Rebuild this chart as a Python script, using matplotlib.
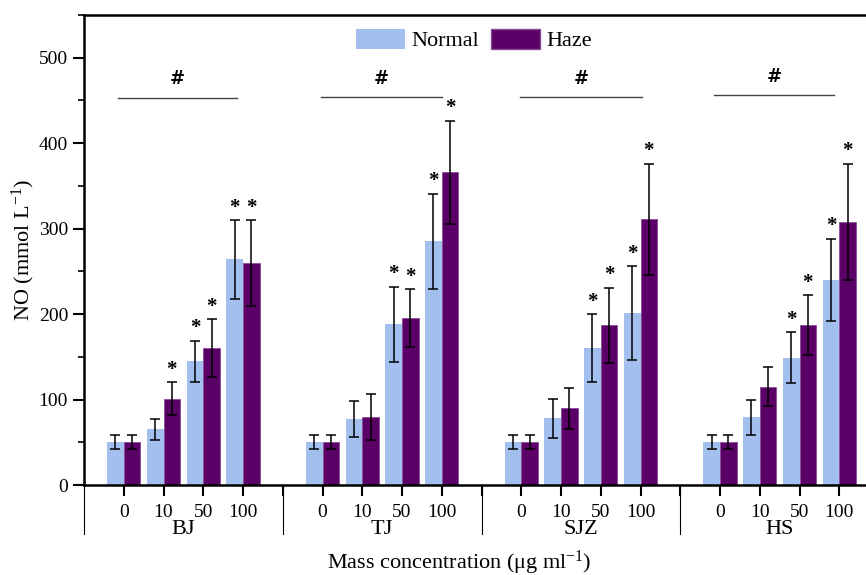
import numpy as np
import matplotlib
matplotlib.use("Agg")
import matplotlib.pyplot as plt
from matplotlib.patches import Patch
from matplotlib.ticker import MultipleLocator

plt.rcParams.update({
    "font.family": ["Liberation Serif", "DejaVu Serif"],
    "mathtext.fontset": "custom",
    "mathtext.rm": "Liberation Serif",
    "mathtext.it": "Liberation Serif:italic",
    "mathtext.bf": "Liberation Serif:bold",
    "font.size": 13,
})

# ---------------------------------------------------------------------------
# Data
# ---------------------------------------------------------------------------
sites = ["BJ", "TJ", "SJZ", "HS"]
doses = ["0", "10", "50", "100"]

normal_mean = [[50, 65, 145, 264],
               [50, 77, 188, 285],
               [50, 78, 160, 201],
               [50, 79, 149, 240]]
normal_err = [[8, 12, 24, 46],
              [8, 21, 44, 56],
              [8, 23, 40, 55],
              [8, 20, 30, 48]]
haze_mean = [[50, 101, 160, 260],
             [50, 80, 195, 366],
             [50, 90, 187, 311],
             [50, 115, 187, 308]]
haze_err = [[8, 19, 34, 50],
            [8, 27, 34, 60],
            [8, 24, 44, 65],
            [8, 23, 35, 68]]
# significance marks (*) vs control
normal_star = [[0, 0, 1, 1], [0, 0, 1, 1], [0, 0, 1, 1], [0, 0, 1, 1]]
haze_star = [[0, 1, 1, 1], [0, 0, 1, 1], [0, 0, 1, 1], [0, 0, 1, 1]]
# "#" bracket per site: start/end offsets (in dose slots) and height
hash_span = [(-0.15, 2.85), (-0.03, 3.0), (-0.03, 3.05), (-0.15, 2.88)]
hash_y = [453, 454, 454, 456]

COLOR_NORMAL = "#a3bfee"
COLOR_HAZE = "#5a0066"
W = 0.42

# ---------------------------------------------------------------------------
fig = plt.figure(figsize=(8.66, 5.75), dpi=100)
ax = fig.add_axes([84 / 866, 90 / 575, 795 / 866, 470 / 575])

centres = []
seps = []
for g, site in enumerate(sites):
    base = g * 5
    pos = base + np.arange(4)
    centres.extend(pos)
    if g > 0:
        seps.append(base - 1)
    ax.bar(pos - W / 2, normal_mean[g], W, color=COLOR_NORMAL, edgecolor="none", zorder=2)
    ax.bar(pos + W / 2, haze_mean[g], W, color=COLOR_HAZE, edgecolor="#8a4a9a",
           linewidth=0.6, zorder=2)
    ax.errorbar(pos - W / 2, normal_mean[g], yerr=normal_err[g], fmt="none",
                ecolor="black", elinewidth=1.1, capsize=3.7, capthick=1.1, zorder=3)
    ax.errorbar(pos + W / 2, haze_mean[g], yerr=haze_err[g], fmt="none",
                ecolor="black", elinewidth=1.1, capsize=3.7, capthick=1.1, zorder=3)
    for i in range(4):
        if normal_star[g][i]:
            ax.annotate("*", (pos[i] - W / 2, normal_mean[g][i] + normal_err[g][i]),
                        xytext=(0, 9), textcoords="offset points", ha="center",
                        va="center", fontsize=15, fontweight="bold")
        if haze_star[g][i]:
            ax.annotate("*", (pos[i] + W / 2, haze_mean[g][i] + haze_err[g][i]),
                        xytext=(0, 9), textcoords="offset points", ha="center",
                        va="center", fontsize=15, fontweight="bold")
    x0, x1 = hash_span[g]
    ax.plot([base + x0, base + x1], [hash_y[g], hash_y[g]], color="#444444", lw=1.0)
    ax.text(base + (x0 + x1) / 2, hash_y[g] + 11, "#", ha="center", va="bottom",
            fontsize=13, fontweight="bold", family="DejaVu Serif")
    ax.text(base + 1.5, -0.095, site, transform=ax.get_xaxis_transform(),
            ha="center", va="center", fontsize=16)
seps.append(19)

ax.set_xlim(-1, 19)
ax.set_ylim(0, 550)
ax.set_xticks(list(centres) + seps)
ax.set_xticklabels(doses * 4 + [""] * len(seps))
ax.yaxis.set_major_locator(MultipleLocator(100))
ax.yaxis.set_minor_locator(MultipleLocator(50))
ax.tick_params(axis="x", length=8, width=1.5, pad=6, labelsize=14)
ax.tick_params(axis="y", which="major", length=8, width=1.5, labelsize=14)
ax.tick_params(axis="y", which="minor", length=4, width=1.2)

for s in ["left", "bottom", "top"]:
    ax.spines[s].set_linewidth(1.8)
ax.spines["right"].set_visible(False)

# group separators below the axis
xt = ax.get_xaxis_transform()
for x in [-1] + seps:
    ax.plot([x, x], [0, -0.105], transform=xt, color="black", lw=0.8, clip_on=False)

ax.set_ylabel("NO (mmol L$^{\\mathregular{-1}}$)", fontsize=16, labelpad=1)
ax.text(8.45, -0.165, "Mass concentration (μg ml$^{\\mathregular{-1}}$)", transform=xt,
        ha="center", va="center", fontsize=16)

handles = [Patch(facecolor=COLOR_NORMAL, label="Normal"),
           Patch(facecolor=COLOR_HAZE, edgecolor="#8a4a9a", label="Haze")]
fig.legend(handles=handles, loc="center", bbox_to_anchor=(474 / 866, 1 - 40 / 575),
           ncol=2, frameon=False, fontsize=16, handlelength=2.2, handleheight=1.0,
           handletextpad=0.3, columnspacing=0.5)

fig.savefig("out.png", dpi=100)
